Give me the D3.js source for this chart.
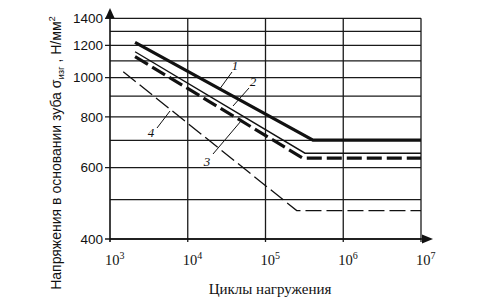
<!DOCTYPE html>
<html lang="ru">
<head>
<meta charset="utf-8">
<title>Напряжения в основании зуба</title>
<script src="https://d3js.org/d3.v7.min.js"></script>
<style>
  body { margin: 0; background: #fff; }
  .grid line { stroke: #1a1a1a; stroke-width: 1.3px; }
  .curve { fill: none; stroke: #111; }
  .tick-y { font-family: 'Liberation Sans', Arial, sans-serif; font-size: 13.5px; fill: #111; }
  .tick-x { font-family: 'Liberation Serif', 'Times New Roman', serif; font-size: 14.5px; fill: #111; }
  .lbl { font-family: 'Liberation Serif', serif; font-style: italic; font-size: 13px; fill: #111; }
</style>
</head>
<body>
<svg id="chart" width="500" height="307"></svg>
<script>
// tick values
var yTicks = [400, 600, 800, 1000, 1200, 1400];
var yGrid = [400, 500, 600, 700, 800, 900, 1000, 1100, 1200, 1300, 1400];
var xTicks = [1e3, 1e4, 1e5, 1e6, 1e7];
var xExp = ["3", "4", "5", "6", "7"];

// curves: cycles / stress
var n1 = [2100, 4.08e5, 1e7], s1 = [1221, 701, 701];
var n2 = [2100, 3.22e5, 1e7], s2 = [1158, 651, 651];
var n3 = [2100, 3.03e5, 1e7], s3 = [1126, 633, 633];
var n4 = [1480, 2.52e5, 1e7], s4 = [1034, 470, 470];
var curveNames = ["1", "2", "3", "4"];

var svg = d3.select("#chart");

var x = d3.scaleLog().domain([1e3, 1e7]).range([110, 421]);
var y = d3.scaleLog().domain([400, 1400]).range([239, 18.3]);

// horizontal grid
svg.append("g").attr("class", "grid")
  .selectAll("line").data(yGrid).enter().append("line")
  .attr("x1", function(d) { return yTicks.indexOf(d) >= 0 ? x(1e3) - 5 : x(1e3); })
  .attr("x2", x(1e7))
  .attr("y1", function(d) { return y(d); })
  .attr("y2", function(d) { return y(d); });

// vertical grid
svg.append("g").attr("class", "grid")
  .selectAll("line").data(xTicks.slice(1)).enter().append("line")
  .attr("x1", function(d) { return x(d); })
  .attr("x2", function(d) { return x(d); })
  .attr("y1", y(1400))
  .attr("y2", y(400) + 3);

// axes with arrows
svg.append("line").attr("x1", x(1e3)).attr("x2", x(1e3))
  .attr("y1", y(400) + 3).attr("y2", 14)
  .attr("stroke", "#111").attr("stroke-width", 1.6);
svg.append("path").attr("d", "M" + x(1e3) + ",8 l-4.5,10 l9,0 z").attr("fill", "#111");
svg.append("line").attr("x1", x(1e3)).attr("x2", 428)
  .attr("y1", y(400)).attr("y2", y(400))
  .attr("stroke", "#111").attr("stroke-width", 1.6);
svg.append("path").attr("d", "M433," + y(400) + " l-11,-4.5 l0,9 z").attr("fill", "#111");

// y tick labels
svg.append("g").selectAll("text").data(yTicks).enter().append("text")
  .attr("class", "tick-y")
  .attr("x", 103)
  .attr("y", function(d) { return y(d); })
  .attr("dy", "0.36em")
  .attr("text-anchor", "end")
  .text(function(d) { return d; });

// x tick labels 10^n
var xl = svg.append("g").selectAll("text").data(xTicks).enter().append("text")
  .attr("class", "tick-x")
  .attr("x", function(d) { return x(d) - 5; })
  .attr("y", 265);
xl.append("tspan").text("10");
xl.append("tspan").attr("dy", -6).attr("font-size", "10px")
  .text(function(d, i) { return xExp[i]; });

// axis titles
svg.append("text")
  .attr("x", 270).attr("y", 294)
  .attr("text-anchor", "middle")
  .attr("font-family", "'Liberation Serif', serif")
  .attr("font-size", "15px").attr("fill", "#111")
  .text("Циклы нагружения");

var yt = svg.append("text")
  .attr("transform", "translate(61,153) rotate(-90)")
  .attr("text-anchor", "middle")
  .attr("font-family", "'Liberation Sans', Arial, sans-serif")
  .attr("font-size", "14px").attr("fill", "#111");
yt.append("tspan").text("Напряжения в основании зуба σ");
yt.append("tspan").attr("font-size", "9.5px").attr("dy", 3).text("изг");
yt.append("tspan").attr("dy", -3).text(" , Н/мм");
yt.append("tspan").attr("font-size", "9.5px").attr("dy", -6).text("2");

// curves
var line = d3.line().x(function(d) { return x(d[0]); }).y(function(d) { return y(d[1]); });
var curves = [
  { n: n1, s: s1, w: 3.2, dash: null },
  { n: n2, s: s2, w: 1.4, dash: null },
  { n: n3, s: s3, w: 3.2, dash: "15,5" },
  { n: n4, s: s4, w: 1.3, dash: "16,5" }
];
svg.append("g").selectAll("path").data(curves).enter().append("path")
  .attr("class", "curve")
  .attr("d", function(c) { return line(d3.zip(c.n, c.s)); })
  .attr("stroke-width", function(c) { return c.w; })
  .attr("stroke-dasharray", function(c) { return c.dash; });

// curve labels with leaders
var leaders = [
  { a: [232, 72], b: [219, 90], t: [235, 70] },
  { a: [249, 88], b: [233, 106], t: [253, 86] },
  { a: [241, 121], b: [213, 154], t: [207, 166] },
  { a: [157, 128], b: [170, 111], t: [151, 137] }
];
svg.append("g").selectAll("line").data(leaders).enter().append("line")
  .attr("x1", function(d) { return d.a[0]; }).attr("y1", function(d) { return d.a[1]; })
  .attr("x2", function(d) { return d.b[0]; }).attr("y2", function(d) { return d.b[1]; })
  .attr("stroke", "#111").attr("stroke-width", 1);
svg.append("g").selectAll("text").data(leaders).enter().append("text")
  .attr("class", "lbl")
  .attr("x", function(d) { return d.t[0]; })
  .attr("y", function(d) { return d.t[1]; })
  .attr("text-anchor", "middle")
  .text(function(d, i) { return curveNames[i]; });
</script>
</body>
</html>
